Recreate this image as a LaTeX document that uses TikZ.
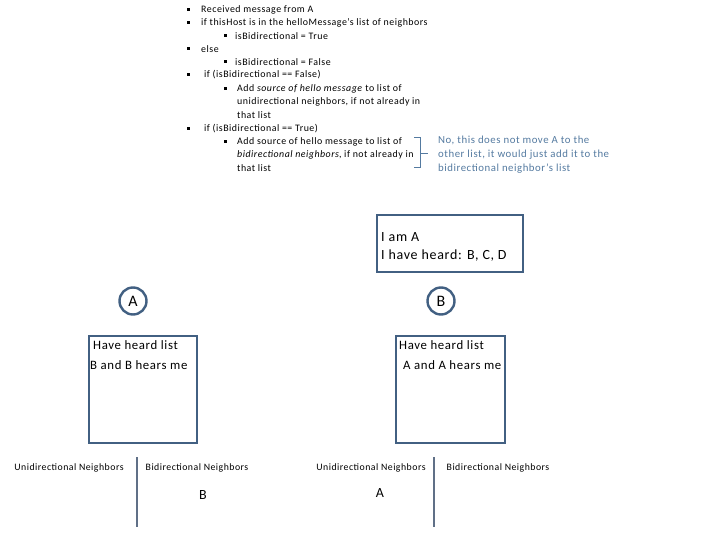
\documentclass[tikz,border=0pt]{standalone}
\usepackage{fontspec}
\setmainfont{Carlito}[LetterSpace=5]
\usepackage{xcolor}
\usetikzlibrary{positioning,calc}
\definecolor{slate}{RGB}{66,96,130}
\definecolor{notecol}{RGB}{84,122,160}
\definecolor{divcol}{RGB}{96,112,135}

\begin{document}
\begin{tikzpicture}[x=1pt, y=-1pt]
        \tikzset{
            item/.style={anchor=west, inner sep=0pt, font=\fontsize{9.9}{11}\selectfont},
            bul/.style={fill=black, rectangle, minimum size=3pt, inner sep=0pt},
            note/.style={anchor=west, inner sep=0pt, text=notecol, font=\fontsize{10.8}{12}\selectfont},
            infobox/.style={draw=slate, line width=2.6pt, rectangle, inner sep=0pt},
            host/.style={draw=slate, line width=2.4pt, circle, minimum size=27pt, inner sep=0pt, font=\fontsize{16}{18}\selectfont},
            heard/.style={anchor=west, inner sep=0pt, font=\fontsize{12.8}{14}\selectfont},
            nbr/.style={inner sep=0pt, font=\fontsize{9.8}{11}\selectfont},
            entry/.style={inner sep=0pt, font=\fontsize{14}{16}\selectfont},
            divider/.style={draw=divcol, line width=1.2pt}
        }
        \useasboundingbox (0,0) rectangle (720,540);

        % Pseudo code list
        \node [bul] at (188,10) (b1) {};
        \node [item] at (201,10) (t1) {Received message from A};
        \node [bul] at (188,23) (b2) {};
        \node [item] at (201,23) (t2) {if thisHost is in the helloMessage’s list of neighbors};
        \node [bul] at (225,36) (b3) {};
        \node [item] at (235,36) (t3) {isBidirectional = True};
        \node [bul] at (188,49) (b4) {};
        \node [item] at (201,49) (t4) {else};
        \node [bul] at (225,62) (b5) {};
        \node [item] at (235,62) (t5) {isBidirectional = False};
        \node [bul] at (188,75) (b6) {};
        \node [item] at (204,75) (t6) {if (isBidirectional == False)};
        \node [bul] at (225,89) (b7) {};
        \node [item] at (237,89) (t7) {Add \textit{source of hello message} to list of};
        \node [item] at (237,102) (t8) {unidirectional neighbors, if not already in};
        \node [item] at (237,115) (t9) {that list};
        \node [bul] at (188,129) (b10) {};
        \node [item] at (204,129) (t10) {if (isBidirectional == True)};
        \node [bul] at (225,142) (b11) {};
        \node [item] at (237,142) (t11) {Add source of hello message to list of};
        \node [item] at (237,155) (t12) {\textit{bidirectional neighbors}, if not already in};
        \node [item] at (237,168) (t13) {that list};

        % Bracket and note
        \coordinate (brtop) at (414,138);
        \coordinate (brbot) at (414,168);
        \coordinate (brtip) at (428,154);
        \draw [draw=notecol, line width=1pt] (brtop) -- ++(6,0) |- (brbot);
        \draw [draw=notecol, line width=1pt] ($(brtop)!0.53!(brbot)+(6,0)$) -- (brtip |- {$(brtop)!0.53!(brbot)$});
        \node [note] at (438,140) (n1) {No, this does not move A to the};
        \node [note] at (438,155) (n2) {other list, it would just add it to the};
        \node [note] at (438,169) (n3) {bidirectional neighbor’s list};

        % Host summary box
        \draw [infobox] (377,215) rectangle (523,272);
        \node [heard, font=\fontsize{14}{16}\selectfont] at (381,237) (iam) {I am A};
        \node [heard, font=\fontsize{14}{16}\selectfont] at (381,256) (ihave) {I have heard: B, C, D};

        % Hosts
        \node [host] at (133,301) (hA) {A};
        \node [host] at (441,301) (hB) {B};

        % Heard lists
        \draw [infobox] (89,336) rectangle (197,443);
        \node [heard] at (93,345) (hlA) {Have heard list};
        \node [heard] at (90,365) (hmA) {B and B hears me};
        \draw [infobox] (396,336) rectangle (505,443);
        \node [heard] at (399,345) (hlB) {Have heard list};
        \node [heard] at (403,365) (hmB) {A and A hears me};

        % Neighbor tables
        \node [nbr] at (69,468) (uniA) {Unidirectional Neighbors};
        \node [nbr] at (197,468) (biA) {Bidirectional Neighbors};
        \draw [divider] (137,457) -- (137,527);
        \node [entry] at (203,495) (eA) {B};
        \node [nbr] at (371,468) (uniB) {Unidirectional Neighbors};
        \node [nbr] at (498,468) (biB) {Bidirectional Neighbors};
        \draw [divider] (434,457) -- (434,527);
        \node [entry] at (380,493) (eB) {A};
    \end{tikzpicture}
\end{document}
